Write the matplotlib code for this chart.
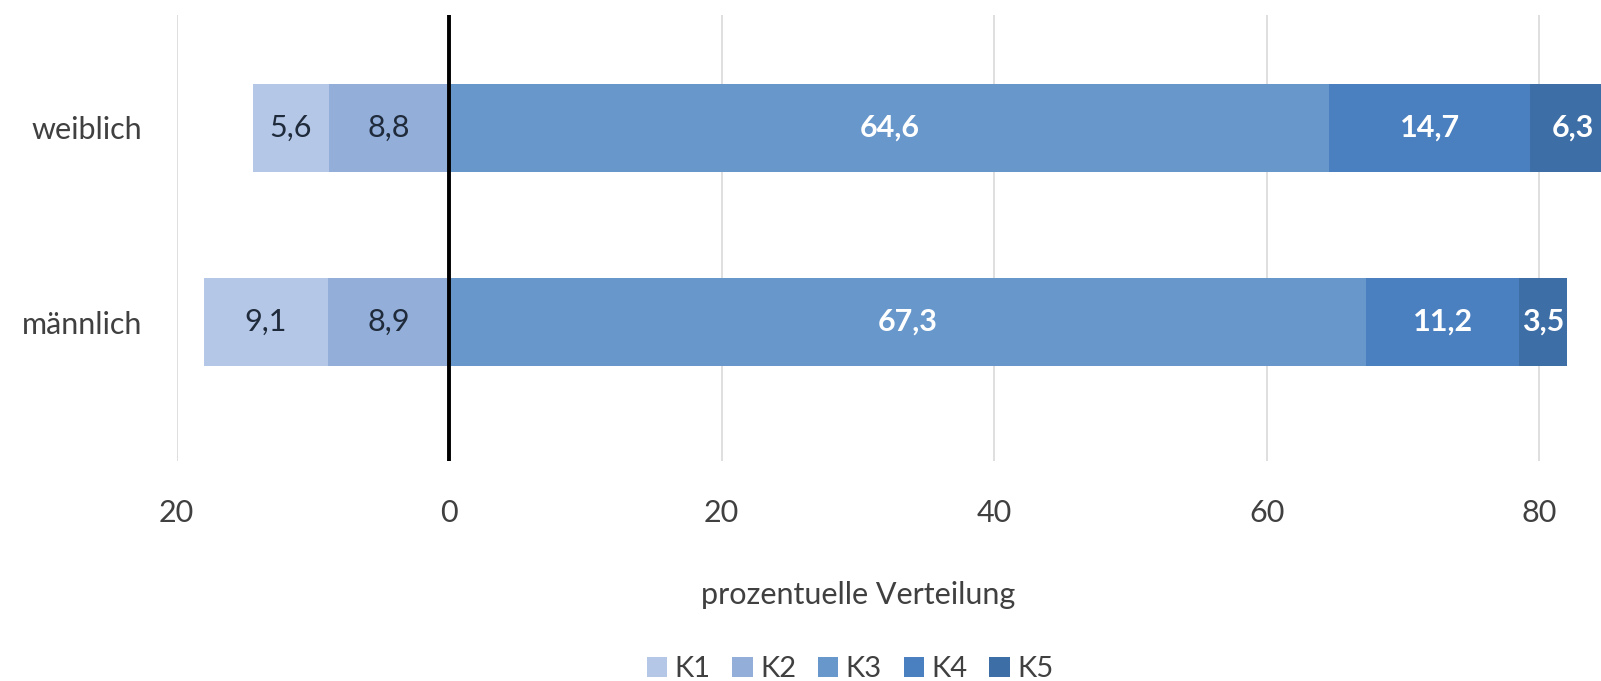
import matplotlib
matplotlib.use("Agg")
import matplotlib.pyplot as plt
import numpy as np

categories = ["männlich", "weiblich"]
series_names = ["K1", "K2", "K3", "K4", "K5"]
k1 = [9.1, 5.6]
k2 = [8.9, 8.8]
k3 = [67.3, 64.6]
k4 = [11.2, 14.7]
k5 = [3.5, 6.3]
xticks = [-20, 0, 20, 40, 60, 80]
xticklabels = ["20", "0", "20", "40", "60", "80"]
colors = ["#b4c7e7", "#92aed9", "#6897cb", "#4b80c0", "#3d6ea6"]
label_colors = ["#1f2a3a", "#1f2a3a", "white", "white", "white"]

plt.rcParams['font.family'] = ['Lato', 'DejaVu Sans']

fig = plt.figure(figsize=(16.01, 6.81), dpi=100)
ax = fig.add_axes([176.6/1601, 220/681, 1499/1601, 446/681])

y = np.arange(len(categories))
h = 0.45
k1a = np.array(k1); k2a = np.array(k2); k3a = np.array(k3); k4a = np.array(k4); k5a = np.array(k5)
lefts = [-(k1a + k2a), -k2a, np.zeros(2), k3a, k3a + k4a]
widths = [k1a, k2a, k3a, k4a, k5a]
vals = [k1, k2, k3, k4, k5]

for i in range(5):
    bars = ax.barh(y, widths[i], left=lefts[i], height=h, color=colors[i],
                   label=series_names[i], zorder=2)
    ax.bar_label(bars, labels=[f"{v:.1f}".replace('.', ',') for v in vals[i]],
                 label_type='center', color=label_colors[i], fontsize=22,
                 fontweight='bold' if i >= 2 else 'normal')

ax.set_xlim(-20, 90)
ax.set_ylim(-0.716, 1.582)
ax.set_xticks(xticks)
ax.set_xticklabels(xticklabels)
ax.set_yticks(y)
ax.set_yticklabels(categories)
ax.grid(axis='x', color='#d9d9d9', linewidth=1.2, zorder=0)
ax.axvline(0, color='black', linewidth=2.8, zorder=3)
for s in ax.spines.values():
    s.set_visible(False)
ax.tick_params(axis='both', length=0, labelsize=22, colors='#404040')
ax.tick_params(axis='x', pad=27)
ax.tick_params(axis='y', pad=25)

fig.text(858/1601, 1 - 595/681, "prozentuelle Verteilung", ha='center', va='center',
         fontsize=22, color='#404040')
handles, labels = ax.get_legend_handles_labels()
leg = fig.legend(handles, labels, loc='center', bbox_to_anchor=(850/1601, 1 - 669/681),
                 ncol=5, frameon=False, fontsize=21, handlelength=0.7, handleheight=0.7,
                 handletextpad=0.25, columnspacing=0.75, borderpad=0)
for t in leg.get_texts():
    t.set_color('#404040')

fig.savefig("out.png", dpi=100)
